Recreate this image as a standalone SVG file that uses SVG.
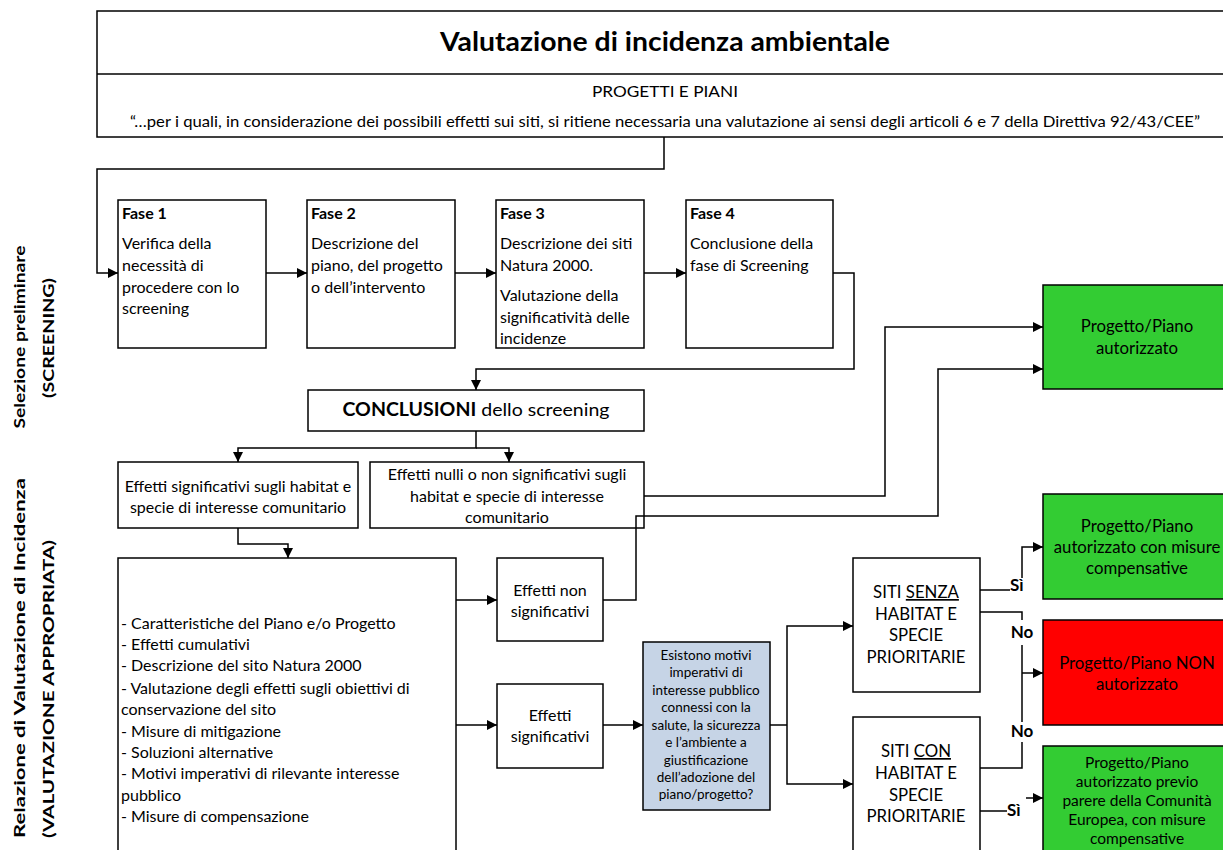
<svg xmlns="http://www.w3.org/2000/svg" width="1223" height="850" viewBox="0 0 1223 850">
<defs>
<marker id="arr" viewBox="0 0 10 10" refX="10" refY="5" markerWidth="10" markerHeight="10" markerUnits="userSpaceOnUse" orient="auto">
<path d="M0,0 L10,5 L0,10 z" fill="#000"/>
</marker>
<style>
.box{fill:#fff;stroke:#000;stroke-width:1.5}
.green{fill:#33CC33;stroke:#000;stroke-width:1.5}
.red{fill:#FF0000;stroke:#000;stroke-width:1.5}
.blue{fill:#C6D4E6;stroke:#000;stroke-width:1.5}
.ln{fill:none;stroke:#000;stroke-width:1.5}
.ar{fill:none;stroke:#000;stroke-width:1.5;marker-end:url(#arr)}
text{font-family:Lato,"Liberation Sans",sans-serif;font-size:16px;fill:#000}
.c{text-anchor:middle}
.b{font-weight:bold}
.s{font-size:13.5px}
.m{font-size:16.8px}
.t{font-size:15.5px}
.lab{font-weight:bold;font-size:17px}
.side{font-weight:bold;font-size:16px}
</style>
</defs>

<g id="header">
<rect class="box" x="97" y="11" width="1140" height="126"/>
<line class="ln" x1="97" y1="74" x2="1237" y2="74"/>
<text class="c b" x="665" y="51" style="font-size:26px" textLength="450" lengthAdjust="spacingAndGlyphs">Valutazione di incidenza ambientale</text>
<text class="c" x="665" y="97" textLength="146" lengthAdjust="spacingAndGlyphs">PROGETTI E PIANI</text>
<text class="c" x="665" y="127" textLength="1070" lengthAdjust="spacingAndGlyphs">“…per i quali, in considerazione dei possibili effetti sui siti, si ritiene necessaria una valutazione ai sensi degli articoli 6 e 7 della Direttiva 92/43/CEE”</text>
</g>

<g id="label-screening">
<text class="side c" transform="translate(25,337) rotate(-90)" textLength="183" lengthAdjust="spacingAndGlyphs">Selezione preliminare</text>
<text class="side c" transform="translate(54,338) rotate(-90)" textLength="120" lengthAdjust="spacingAndGlyphs">(SCREENING)</text>
</g>
<g id="label-valutazione">
<text class="side" transform="translate(25,838) rotate(-90)" textLength="360" lengthAdjust="spacingAndGlyphs">Relazione di Valutazione di Incidenza</text>
<text class="side" transform="translate(54,838) rotate(-90)" textLength="298" lengthAdjust="spacingAndGlyphs">(VALUTAZIONE APPROPRIATA)</text>
</g>

<g id="fase1">
<rect class="box" x="118" y="200" width="148" height="148"/>
<text class="b" x="122" y="219">Fase 1</text>
<text x="122" y="249">Verifica della</text>
<text x="122" y="271">necessità di</text>
<text x="122" y="293">procedere con lo</text>
<text x="122" y="314">screening</text>
</g>
<g id="fase2">
<rect class="box" x="307" y="200" width="148" height="148"/>
<text class="b" x="311" y="219">Fase 2</text>
<text x="311" y="249">Descrizione del</text>
<text x="311" y="271">piano, del progetto</text>
<text x="311" y="293">o dell’intervento</text>
</g>
<g id="fase3">
<rect class="box" x="496" y="200" width="148" height="148"/>
<text class="b" x="500" y="219">Fase 3</text>
<text x="500" y="249">Descrizione dei siti</text>
<text x="500" y="271">Natura 2000.</text>
<text x="500" y="301">Valutazione della</text>
<text x="500" y="323">significatività delle</text>
<text x="500" y="344">incidenze</text>
</g>
<g id="fase4">
<rect class="box" x="686" y="200" width="147" height="148"/>
<text class="b" x="690" y="219">Fase 4</text>
<text x="690" y="249">Conclusione della</text>
<text x="690" y="271">fase di Screening</text>
</g>

<g id="conclusioni">
<rect class="box" x="308" y="390" width="336" height="41"/>
<text class="c" x="476" y="416" style="font-size:18px" textLength="267" lengthAdjust="spacingAndGlyphs"><tspan class="b">CONCLUSIONI</tspan> dello screening</text>
</g>

<g id="effetti-sig-habitat">
<rect class="box" x="118" y="462" width="240" height="66"/>
<text class="c" x="238" y="492">Effetti significativi sugli habitat e</text>
<text class="c" x="238" y="513">specie di interesse comunitario</text>
</g>
<g id="effetti-nulli">
<rect class="box" x="370" y="462" width="274" height="66"/>
<text class="c" x="507" y="480">Effetti nulli o non significativi sugli</text>
<text class="c" x="507" y="502">habitat e specie di interesse</text>
<text class="c" x="507" y="523">comunitario</text>
</g>

<g id="relazione">
<rect class="box" x="118" y="558" width="338" height="310"/>
<text x="121" y="629">- Caratteristiche del Piano e/o Progetto</text>
<text x="121" y="650">- Effetti cumulativi</text>
<text x="121" y="671">- Descrizione del sito Natura 2000</text>
<text x="121" y="694">- Valutazione degli effetti sugli obiettivi di</text>
<text x="121" y="715">conservazione del sito</text>
<text x="121" y="737">- Misure di mitigazione</text>
<text x="121" y="758">- Soluzioni alternative</text>
<text x="121" y="779">- Motivi imperativi di rilevante interesse</text>
<text x="121" y="801">pubblico</text>
<text x="121" y="822">- Misure di compensazione</text>
</g>

<g id="effetti-non-sig">
<rect class="box" x="497" y="558" width="106" height="83"/>
<text class="c" x="550" y="596">Effetti non</text>
<text class="c" x="550" y="617">significativi</text>
</g>
<g id="effetti-sig">
<rect class="box" x="497" y="684" width="106" height="84"/>
<text class="c" x="550" y="721">Effetti</text>
<text class="c" x="550" y="742">significativi</text>
</g>

<g id="motivi">
<rect class="blue" x="643" y="642" width="127" height="168"/>
<text class="c s" x="706" y="660">Esistono motivi</text>
<text class="c s" x="706" y="677">imperativi di</text>
<text class="c s" x="706" y="695">interesse pubblico</text>
<text class="c s" x="706" y="712">connessi con la</text>
<text class="c s" x="706" y="730">salute, la sicurezza</text>
<text class="c s" x="706" y="747">e l’ambiente a</text>
<text class="c s" x="706" y="765">giustificazione</text>
<text class="c s" x="706" y="782">dell’adozione del</text>
<text class="c s" x="706" y="799">piano/progetto?</text>
</g>

<g id="siti-senza">
<rect class="box" x="853" y="558" width="127" height="134"/>
<text class="c m" x="916" y="598">SITI <tspan text-decoration="underline">SENZA</tspan></text>
<text class="c m" x="916" y="620">HABITAT E</text>
<text class="c m" x="916" y="641">SPECIE</text>
<text class="c m" x="916" y="663">PRIORITARIE</text>
</g>
<g id="siti-con">
<rect class="box" x="853" y="717" width="127" height="150"/>
<text class="c m" x="916" y="757">SITI <tspan text-decoration="underline">CON</tspan></text>
<text class="c m" x="916" y="779">HABITAT E</text>
<text class="c m" x="916" y="801">SPECIE</text>
<text class="c m" x="916" y="822">PRIORITARIE</text>
</g>

<g id="autorizzato">
<rect class="green" x="1043" y="285" width="190" height="104"/>
<text class="c m" x="1137" y="332">Progetto/Piano</text>
<text class="c m" x="1137" y="354">autorizzato</text>
</g>
<g id="autorizzato-misure">
<rect class="green" x="1043" y="494" width="190" height="105"/>
<text class="c m" x="1137" y="532">Progetto/Piano</text>
<text class="c m" x="1137" y="553">autorizzato con misure</text>
<text class="c m" x="1137" y="574">compensative</text>
</g>
<g id="non-autorizzato">
<rect class="red" x="1043" y="620" width="190" height="105"/>
<text class="c m" x="1137" y="669">Progetto/Piano NON</text>
<text class="c m" x="1137" y="690">autorizzato</text>
</g>
<g id="autorizzato-ce">
<rect class="green" x="1043" y="746" width="190" height="120"/>
<text class="c t" x="1137" y="768">Progetto/Piano</text>
<text class="c t" x="1137" y="787">autorizzato previo</text>
<text class="c t" x="1137" y="806">parere della Comunità</text>
<text class="c t" x="1137" y="825">Europea, con misure</text>
<text class="c t" x="1137" y="844">compensative</text>
</g>

<g id="connectors">
<path class="ar" d="M664,137 V169 H97 V273 H118"/>
<path class="ar" d="M266,273 H307"/>
<path class="ar" d="M455,273 H496"/>
<path class="ar" d="M644,273 H686"/>
<path class="ar" d="M833,273 H854 V369 H476 V390"/>
<path class="ar" d="M476,431 V448 H238 V462"/>
<path class="ar" d="M476,448 H509 V462"/>
<path class="ar" d="M644,496 H885 V327 H1043"/>
<path class="ar" d="M238,528 V544 H288 V558"/>
<path class="ar" d="M456,600 H497"/>
<path class="ar" d="M456,725 H497"/>
<path class="ar" d="M603,600 H636 V516 H938 V369 H1043"/>
<path class="ar" d="M603,725 H643"/>
<path class="ln" d="M770,725 H787"/>
<path class="ar" d="M787,725 V626 H853"/>
<path class="ar" d="M787,725 V784 H853"/>
<path class="ln" d="M980,590 H1010"/>
<path class="ar" d="M1022,578 V547 H1043"/>
<path class="ln" d="M980,612 H1022 V620"/>
<path class="ln" d="M1022,645 V722"/>
<path class="ar" d="M1022,673 H1043"/>
<path class="ln" d="M1022,742 V768 H980"/>
<path class="ln" d="M980,811 H1007"/>
<path class="ar" d="M1026,798 H1043"/>
<text class="lab" x="1010" y="591">Sì</text>
<text class="lab c" x="1022" y="638">No</text>
<text class="lab c" x="1022" y="737">No</text>
<text class="lab" x="1007" y="816">Sì</text>
</g>
</svg>
